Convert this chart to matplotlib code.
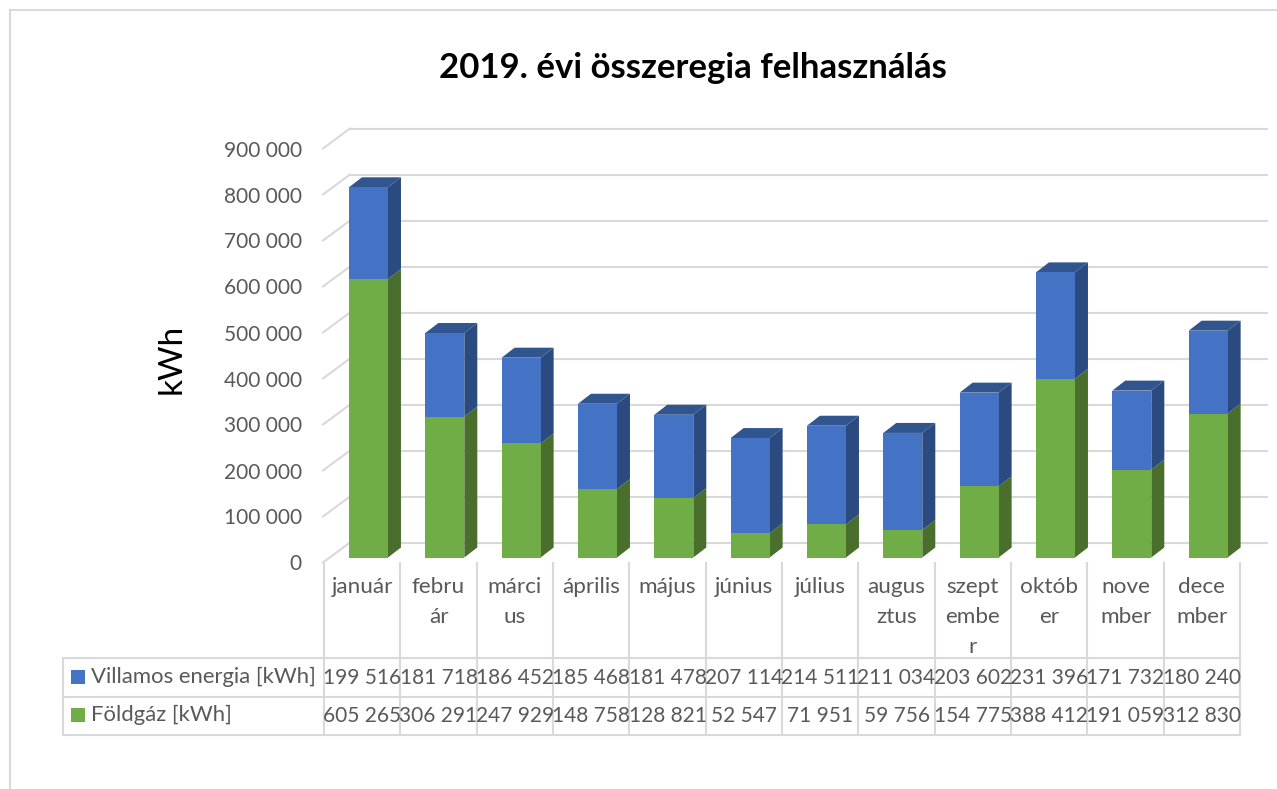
import matplotlib.pyplot as plt
from matplotlib.patches import Polygon, Rectangle
from matplotlib.lines import Line2D
from matplotlib.transforms import Affine2D
import numpy as np

plt.rcParams['font.family'] = ['Lato', 'DejaVu Sans']

months = ['január', 'febru\nár', 'márci\nus', 'április', 'május', 'június', 'július',
          'augus\nztus', 'szept\nembe\nr', 'októb\ner', 'nove\nmber', 'dece\nmber']
villamos = [199516, 181718, 186452, 185468, 181478, 207114, 214511, 211034, 203602, 231396, 171732, 180240]
foldgaz = [605265, 306291, 247929, 148758, 128821, 52547, 71951, 59756, 154775, 388412, 191059, 312830]
yticks = [0, 100000, 200000, 300000, 400000, 500000, 600000, 700000, 800000, 900000]

W, H = 1277, 789
GRID = '#D9D9D9'
TEXT = '#595959'
BLUE, BLUE_SIDE, BLUE_TOP = '#4472C4', '#2A4A80', '#31568F'
GREEN, GREEN_SIDE = '#70AD47', '#4A6F2C'


def fx(x):
    return x / W


def fy(y):
    return 1 - y / H


def fline(x0, y0, x1, y1, lw=1.5, color=GRID):
    fig.add_artist(Line2D([fx(x0), fx(x1)], [fy(y0), fy(y1)], color=color, lw=lw, zorder=0))


fig = plt.figure(figsize=(W / 100, H / 100), dpi=100)
left, right, y0, y900 = 324, 1240, 562.5, 148.5
ax = fig.add_axes([fx(left), fy(y0), (right - left) / W, (y0 - y900) / H])
ax.set_xlim(0, 12)
ax.set_ylim(0, 900000)
ax.patch.set_alpha(0)
for s in ax.spines.values():
    s.set_visible(False)
ax.set_xticks([])
ax.set_yticks(yticks)
ax.set_yticklabels([f'{v:,}'.replace(',', ' ') for v in yticks], fontsize=15, color=TEXT)
ax.tick_params(axis='y', length=0, pad=16)

# outer frame of the chart, cut off on the right and at the bottom
fline(10, 10, 1277, 10)
fline(10, 10, 10, 789)

# back wall lines and the short diagonals to the front plane
back = ax.transData + Affine2D().translate(26.5, 20)
for v in yticks:
    ax.plot([0, 12], [v, v], transform=back, color=GRID, lw=1.5, zorder=1, clip_on=False)
    yp = y0 - (y0 - y900) * v / 900000
    fline(left - 1, yp, left + 26, yp - 20)

# 3D bars: front plane moved a few pixels into the depth
shift = ax.transData + Affine2D().translate(6.3, 5)
x = np.arange(12) + 0.5
bar_w = 39 / 76.33
dx = 13 / 76.33
dy = 10 * 900000 / 414
for xi, g, v in zip(x, foldgaz, villamos):
    l, r = xi - bar_w / 2, xi + bar_w / 2
    top = g + v
    ax.add_patch(Polygon([(r, 0), (r + dx, dy), (r + dx, g + dy), (r, g)], transform=shift,
                         color=GREEN_SIDE, lw=0, zorder=3, clip_on=False))
    ax.add_patch(Polygon([(r, g), (r + dx, g + dy), (r + dx, top + dy), (r, top)], transform=shift,
                         color=BLUE_SIDE, lw=0, zorder=3, clip_on=False))
    ax.add_patch(Polygon([(l, top), (l + dx, top + dy), (r + dx, top + dy), (r, top)], transform=shift,
                         color=BLUE_TOP, lw=0, zorder=3, clip_on=False))
ax.bar(x, foldgaz, bar_w, color=GREEN, transform=shift, zorder=4, clip_on=False)
ax.bar(x, villamos, bar_w, bottom=foldgaz, color=BLUE, transform=shift, zorder=4, clip_on=False)

# data table below the plot
cell = (right - left) / 12
rows = [658, 696.5, 734.5]
for i in range(13):
    fline(left + i * cell, 563, left + i * cell, rows[-1])
for r in rows:
    fline(63, r, right, r)
fline(63, rows[0], 63, rows[-1])

for i, m in enumerate(months):
    xc = fx(left + (i + 0.5) * cell)
    for j, part in enumerate(m.split('\n')):
        fig.text(xc, fy(587 + 30 * j), part, ha='center', va='center', fontsize=16.2, color=TEXT)
    fig.text(xc, fy(678), f'{villamos[i]:,}'.replace(',', ' '), ha='center', va='center', fontsize=15, color=TEXT)
    fig.text(xc, fy(716), f'{foldgaz[i]:,}'.replace(',', ' '), ha='center', va='center', fontsize=15, color=TEXT)

for name, color, yc in [('Villamos energia [kWh]', BLUE, 677), ('Földgáz [kWh]', GREEN, 715)]:
    fig.add_artist(Rectangle((fx(71), fy(yc + 7)), 14 / W, 14 / H, transform=fig.transFigure, color=color, lw=0))
    fig.text(fx(91), fy(yc), name, ha='left', va='center', fontsize=15.9, color=TEXT)

fig.text(fx(693), fy(68), '2019. évi összeregia felhasználás', ha='center', va='center',
         fontsize=25, fontweight='bold', color='black')
fig.text(fx(172), fy(359), 'kWh', rotation=90, ha='center', va='center', fontsize=24, color='black')

fig.savefig('out.png', dpi=100)
